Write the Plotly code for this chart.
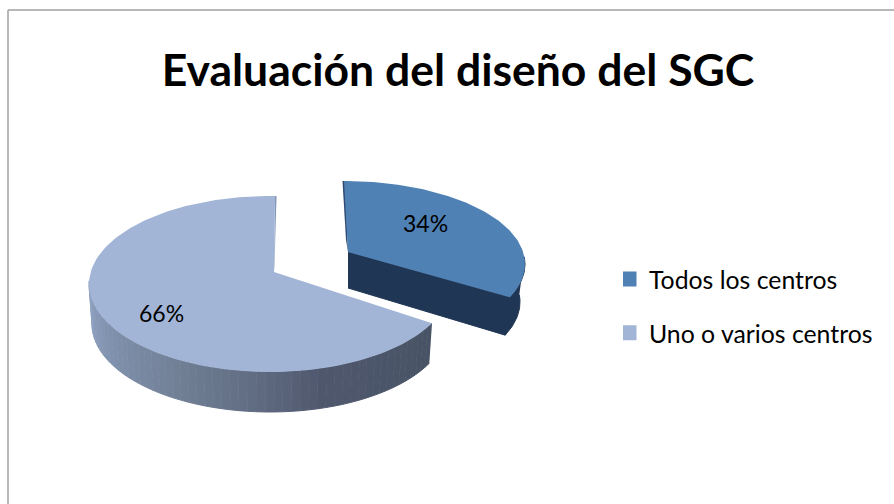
import numpy as np
import plotly.graph_objects as go

categories = ["Todos los centros", "Uno o varios centros"]
values = [34, 66]
chart_title = "Evaluación del diseño del SGC"

FONT = "Lato, Carlito, Calibri, sans-serif"
TOP = ["#4F81B5", "#A2B5D6"]
DARK = "#203655"

fractions = np.array(values, float) / sum(values)
split = 360 * fractions[0]      # boundary between slices, clockwise from the top


def warp(theta, a, t0=0.0):
    return theta + t0 - a * np.sin(np.radians(theta))


def ell(e, t):
    t = np.radians(t)
    return e["cx"] + e["rx"] * np.sin(t), e["cy"] - e["ry"] * np.cos(t)


def poly(fig, x, y, color, line=0):
    fig.add_trace(go.Scatter(x=list(x), y=list(y), mode="lines", fill="toself",
                             fillcolor=color, line=dict(color=color, width=line),
                             hoverinfo="skip", showlegend=False))


fig = go.Figure()

# --- large slice (exploded pie, second value) -----------------------------
bt = dict(cx=270, cy=284, rx=181, ry=88)
bb = dict(cx=270, cy=324, rx=178, ry=88)
apex_b = (274, 272)
b_warp = dict(a=8.9, t0=1.6)

t_end = warp(split, **b_warp)
stops = [(0.0, (72, 84, 102)), (0.30, (80, 88, 110)), (0.45, (98, 110, 132)),
         (0.62, (115, 130, 152)), (0.82, (128, 146, 174)), (1.0, (146, 164, 196))]
edges = np.linspace(t_end, 272, 56)
for i in range(len(edges) - 1):
    tt = np.linspace(edges[i], edges[i + 1], 4)
    x1, y1 = ell(bt, tt)
    x2, y2 = ell(bb, tt[::-1])
    f = i / (len(edges) - 2)
    c = [np.interp(f, [s[0] for s in stops], [s[1][k] for s in stops]) for k in range(3)]
    poly(fig, np.r_[x1, x2], np.r_[y1, y2], "rgb(%d,%d,%d)" % tuple(c), line=1)

# thin inner face at the top of the large slice
top_x, top_y = ell(bt, warp(360.0, **b_warp))
poly(fig, [top_x, top_x + 1.5, apex_b[0] + 0.5, apex_b[0]],
     [top_y, top_y, apex_b[1] - 8, apex_b[1]], "#8397B8")

th = np.linspace(split, 360, 160)
x, y = ell(bt, warp(th, **b_warp))
poly(fig, np.r_[apex_b[0], x], np.r_[apex_b[1], y], TOP[1])

# --- small slice (first value) ---------------------------------------------
st = dict(cx=344, cy=264, rx=181, ry=83)
sb = dict(cx=342, cy=302, rx=178, ry=83)
apex_s = (348, 252)
apex_s_low = (348, 288)
s_warp = dict(a=10.5, t0=0.0)

te = warp(split, **s_warp)
ex, ey = ell(st, te)
ebx, eby = ell(sb, te)
poly(fig, [apex_s[0], ex, ebx, apex_s_low[0]], [apex_s[1], ey, eby, apex_s_low[1]], DARK, line=1)

tt = np.linspace(85, te, 30)
x1, y1 = ell(st, tt)
x2, y2 = ell(sb, tt[::-1])
poly(fig, np.r_[x1, x2], np.r_[y1, y2], DARK, line=1)

sx0, sy0 = ell(st, 0.0)
poly(fig, [sx0 - 1.5, sx0 + 1, apex_s[0], apex_s[0] - 2],
     [sy0, sy0, apex_s[1], apex_s[1] - 12], "#2F4A72")

th = np.linspace(0, split, 100)
x, y = ell(st, warp(th, **s_warp))
poly(fig, np.r_[apex_s[0], x], np.r_[apex_s[1], y], TOP[0])

# --- native legend --------------------------------------------------------
for i, name in enumerate(categories):
    fig.add_trace(go.Scatter(x=[None], y=[None], mode="markers", name=name,
                             legendgroup=name,
                             marker=dict(symbol="square", size=15, color=TOP[i])))

label_pos = [(425.5, 223), (161, 313)]
annotations = [dict(x=p[0], y=p[1], xref="x", yref="y", text=f"{v}%", showarrow=False,
                    font=dict(family=FONT, size=23, color="#000000"))
               for v, p in zip(values, label_pos)]

fig.update_layout(
    width=894, height=504, autosize=False,
    margin=dict(l=0, r=0, t=0, b=0),
    paper_bgcolor="#FFFFFF", plot_bgcolor="#FFFFFF",
    xaxis=dict(range=[0, 894], visible=False, fixedrange=True),
    yaxis=dict(range=[504, 0], visible=False, fixedrange=True),
    title=dict(text=f"<b>{chart_title}</b>", x=458 / 894, xanchor="center",
               y=1 - 70 / 504, yanchor="middle",
               font=dict(family=FONT, size=44.5, color="#000000")),
    legend=dict(x=623 / 894, y=1 - 256.5 / 504, xanchor="left", yanchor="top",
                font=dict(family=FONT, size=24.8, color="#000000"),
                indentation=-14,
                tracegroupgap=18.5, bgcolor="rgba(0,0,0,0)", traceorder="grouped"),
    annotations=annotations,
    shapes=[dict(type="line", xref="x", yref="y", x0=8, x1=8, y0=10, y1=504,
                 line=dict(color="#A0A0A0", width=1.5)),
            dict(type="line", xref="x", yref="y", x0=8, x1=894, y0=10, y1=10,
                 line=dict(color="#A0A0A0", width=1.5))],
)
fig.write_html("out.html", config={"displayModeBar": False},
               post_script="document.body.style.margin='0';document.body.style.overflow='hidden';")
